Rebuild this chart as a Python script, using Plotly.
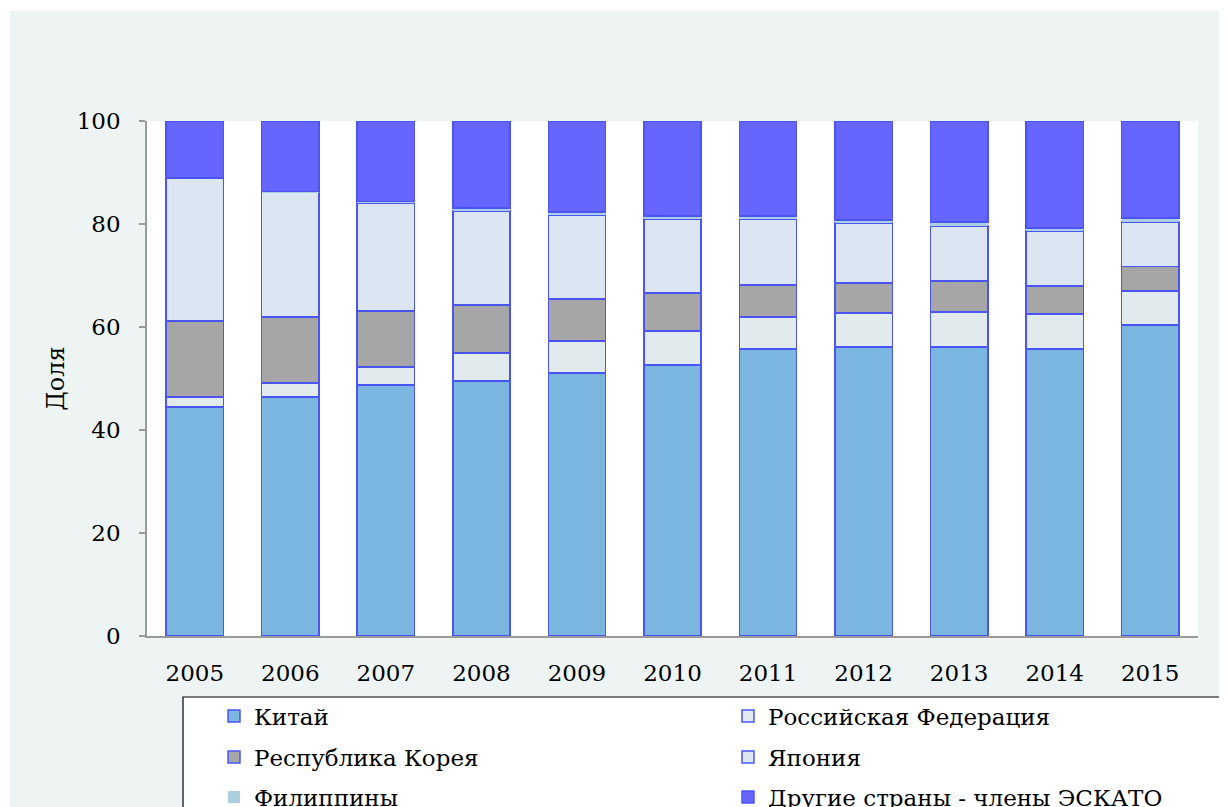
import plotly.graph_objects as go

years = ["2005", "2006", "2007", "2008", "2009", "2010", "2011", "2012", "2013", "2014", "2015"]
china = [44.5, 46.4, 48.7, 49.5, 51.1, 52.6, 55.7, 56.1, 56.1, 55.7, 60.4]
russia = [1.9, 2.7, 3.5, 5.5, 6.2, 6.6, 6.2, 6.6, 6.8, 6.8, 6.6]
korea = [14.8, 12.8, 10.9, 9.3, 8.1, 7.4, 6.3, 5.8, 6.0, 5.5, 4.7]
japan = [27.7, 24.3, 21.0, 18.2, 16.3, 14.4, 12.8, 11.7, 10.7, 10.6, 8.7]
philippines = [0.0, 0.1, 0.3, 0.6, 0.6, 0.6, 0.6, 0.6, 0.8, 0.6, 0.8]
others = [11.1, 13.7, 15.6, 16.9, 17.7, 18.4, 18.4, 19.2, 19.6, 20.8, 18.8]

names = ["Китай", "Российская Федерация", "Республика Корея", "Япония",
         "Филиппины", "Другие страны - члены ЭСКАТО"]
y_ticks = [0, 20, 40, 60, 80, 100]
y_title = "Доля"

series = [china, russia, korea, japan, philippines, others]
colors = ["#7ab6e0", "#e1eaec", "#a6a6a6", "#dce6f2", "#a9cfe0", "#6666ff"]
line_w = [1.5, 1.5, 1.5, 1.5, 0, 1.5]
legend_ids = ["legend", "legend2", "legend3", "legend4", "legend5", "legend6"]

# page has an 8px body margin; figure sized so it ends at the window edge
OFF = 8
W, H = 1227 - OFF, 807 - OFF
L, R, T, B = 139, 29, 113, 171
PW, PH = W - L - R, H - T - B


def px_x(p):
    return (p - OFF - L) / PW


def px_y(p):
    return (H - B - (p - OFF)) / PH


fig = go.Figure()
for vals, nm, col, lw, lg in zip(series, names, colors, line_w, legend_ids):
    fig.add_trace(go.Bar(
        x=years, y=vals, name=nm, legend=lg, showlegend=True,
        marker=dict(color=col, line=dict(color="#4b55f7", width=lw)),
    ))

font_main = "DejaVu Serif"

shapes = [
    dict(type="rect", xref="paper", yref="paper", layer="below",
         x0=px_x(10), x1=px_x(1240), y0=px_y(830), y1=px_y(11),
         fillcolor="#eef4f4", line=dict(width=0)),
    dict(type="rect", xref="paper", yref="paper", layer="below",
         x0=0, x1=1, y0=0, y1=1, fillcolor="white", line=dict(width=0)),
    dict(type="rect", xref="paper", yref="paper", layer="below",
         x0=px_x(183), x1=px_x(1223), y0=px_y(840), y1=px_y(697),
         fillcolor="white", line=dict(color="black", width=1.2)),
]

col_x = [214, 728]
row_y = [716, 757, 797]
legends = {}
for i, lid in enumerate(legend_ids):
    legends[lid] = dict(
        visible=True,
        orientation="h", bgcolor="rgba(0,0,0,0)", borderwidth=0,
        font=dict(family=font_main, size=23, color="black"),
        xanchor="left", yanchor="middle",
        x=px_x(col_x[i % 2]), y=px_y(row_y[i // 2]),
    )

fig.update_layout(
    width=W, height=H,
    showlegend=True,
    margin=dict(l=L, r=R, t=T, b=B, autoexpand=False),
    paper_bgcolor="white", plot_bgcolor="white",
    barmode="stack", bargap=0.4,
    shapes=shapes,
    font=dict(family=font_main, color="black"),
    xaxis=dict(
        showline=True, linecolor="#9a9a9a", linewidth=1.5,
        ticks="", tickfont=dict(family=font_main, size=23, color="black"),
        ticklabelstandoff=16, showgrid=False,
    ),
    yaxis=dict(
        range=[0, 100], tickvals=y_ticks, ticktext=[str(v) for v in y_ticks],
        showline=True, linecolor="#9a9a9a", linewidth=1.5,
        ticks="outside", ticklen=6, tickcolor="#9a9a9a", tickwidth=1.5,
        tickfont=dict(family=font_main, size=23, color="black"),
        ticklabelstandoff=14, showgrid=False, zeroline=False,
        title=dict(text=y_title, font=dict(family=font_main, size=24, color="black"),
                   standoff=5),
    ),
    **legends,
)

fig.write_html("out.html")
